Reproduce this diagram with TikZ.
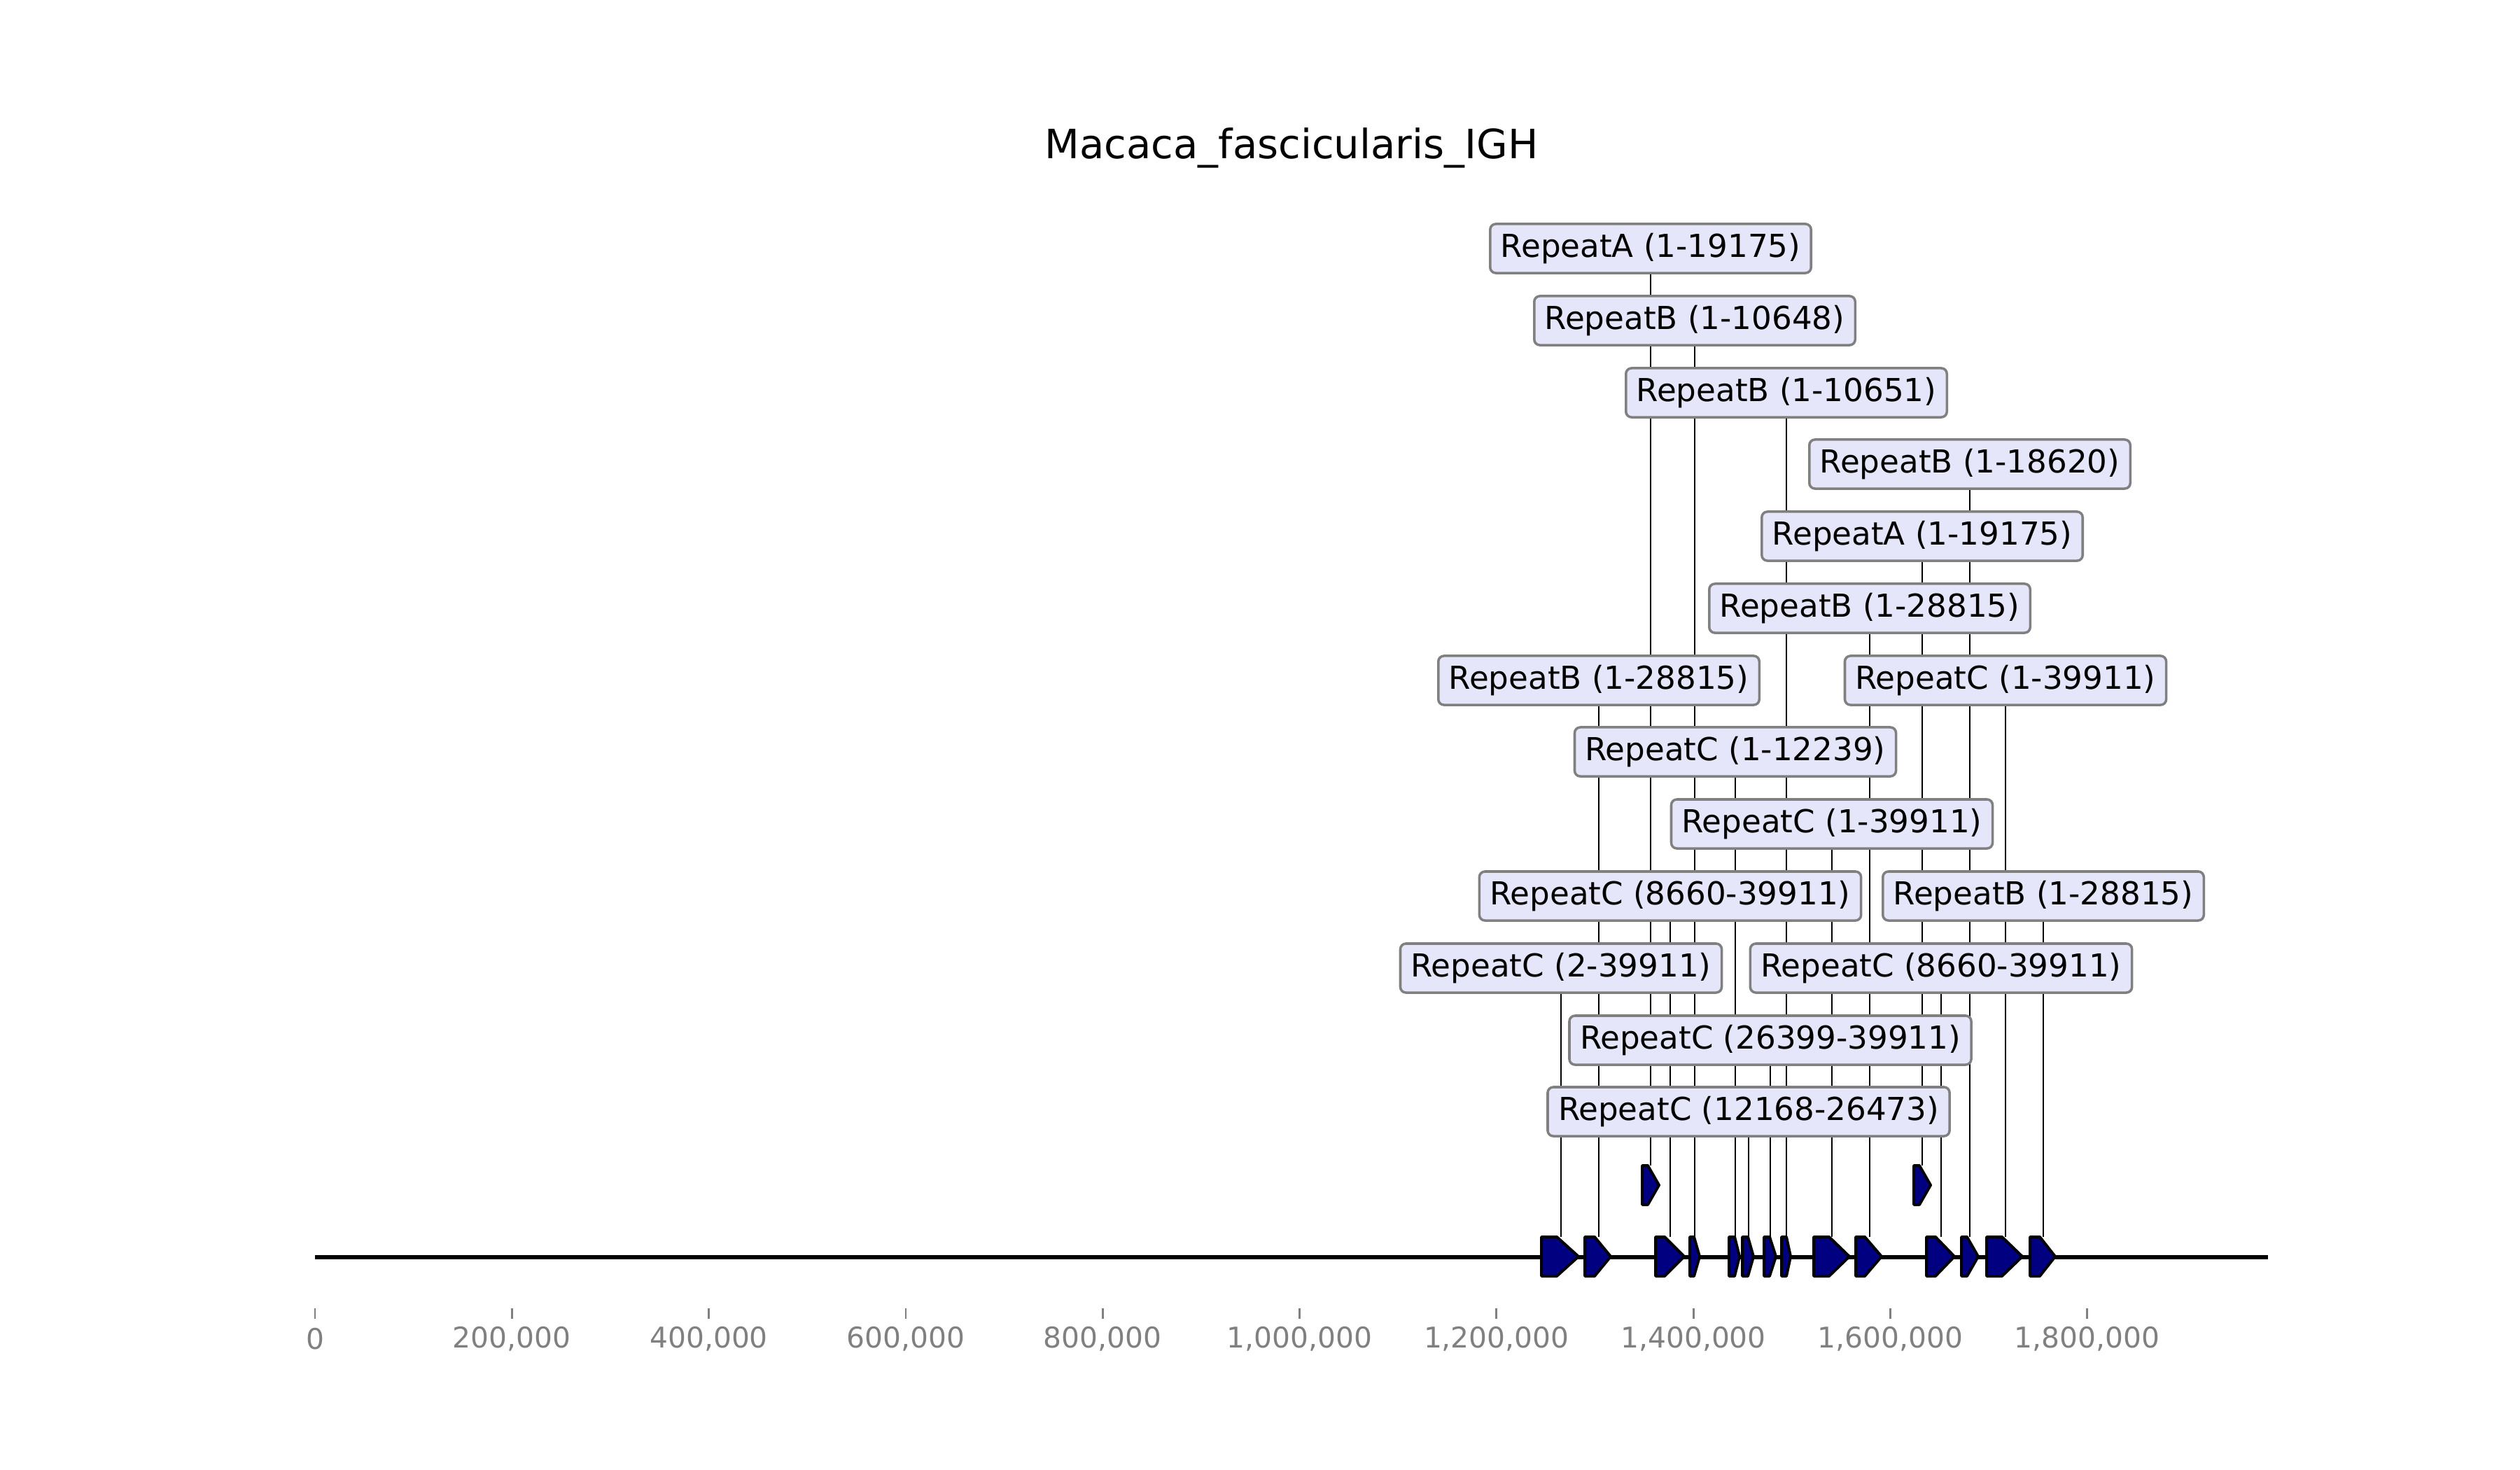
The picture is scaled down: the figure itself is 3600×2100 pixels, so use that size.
\documentclass[tikz,border=0pt]{standalone}
\usepackage{fontspec}
\setmainfont{DejaVu Sans}
\pgfdeclarelayer{bg}
\pgfsetlayers{bg,main}
\definecolor{boxfill}{RGB}{230,230,250}
\definecolor{boxedge}{RGB}{128,128,128}
\definecolor{featfill}{RGB}{0,0,128}
\definecolor{axgray}{RGB}{128,128,128}
\tikzset{
  lab/.style={draw=boxedge, fill=boxfill, line width=1pt, rounded corners=0.08cm,
    inner xsep=0.15cm, inner ysep=0pt, minimum height=0.70cm,
    font=\fontsize{12.85}{15}\selectfont, text=black},
  conn/.style={line width=0.45pt, black},
  feat/.style={draw=black, fill=featfill, line width=1.13pt, line join=round},
  tickmark/.style={axgray, line width=0.8pt},
  ticklab/.style={text=axgray, font=\fontsize{11.6}{14}\selectfont, inner sep=0pt},
  axisline/.style={black, line width=1.84pt},
}
\newcommand\featshape[4]{\draw[feat] (#1,#4-28) -- (#2,#4-28) -- (#3,#4) -- (#2,#4+28) -- (#1,#4+28) -- cycle;}
\begin{document}
\begin{tikzpicture}[x=0.01cm, y=-0.01cm]
\useasboundingbox (0,0) rectangle (3600,2100);

% title
\node[font=\fontsize{16.4}{19}\selectfont] (title) at (1845,211) {Macaca\_fascicularis\_IGH};

% axis
\coordinate (axL) at (450,1796);
\coordinate (axR) at (3240,1796);
\begin{pgfonlayer}{bg}
\draw[axisline] (axL) -- (axR);
\end{pgfonlayer}
\foreach \k/\t in {0/0,1/{200,000},2/{400,000},3/{600,000},4/{800,000},5/{1,000,000},6/{1,200,000},7/{1,400,000},8/{1,600,000},9/{1,800,000}}{
  \coordinate (tk\k) at ({450+281.3*\k},1869);
  \draw[tickmark] (tk\k) -- ++(0,15);
  \node[ticklab] (tl\k) at ({450+281.3*\k},1913) {\t};
}

% features (main track)
\featshape{2202}{2224}{2255}{1795}
\featshape{2264}{2278}{2301}{1795}
\featshape{2365}{2378}{2406}{1795}
\featshape{2414}{2420}{2428}{1795}
\featshape{2470}{2478}{2485}{1795}
\featshape{2489}{2497}{2505}{1795}
\featshape{2520}{2528}{2537}{1795}
\featshape{2545}{2552}{2558}{1795}
\featshape{2591}{2613}{2642}{1795}
\featshape{2651}{2664}{2688}{1795}
\featshape{2752}{2765}{2792}{1795}
\featshape{2802}{2810}{2826}{1795}
\featshape{2838}{2860}{2889}{1795}
\featshape{2900}{2914}{2936}{1795}
% features (upper track)
\featshape{2346}{2354}{2370}{1693}
\featshape{2734}{2742}{2758}{1693}

% feature anchor points for connectors
\coordinate (f1) at (2230,1767);
\coordinate (f2) at (2284,1767);
\coordinate (f3) at (2386,1767);
\coordinate (f4) at (2421,1767);
\coordinate (f5) at (2479,1767);
\coordinate (f6) at (2498,1767);
\coordinate (f7) at (2529,1767);
\coordinate (f8) at (2552,1767);
\coordinate (f9) at (2617,1767);
\coordinate (f10) at (2671,1767);
\coordinate (f11) at (2773,1767);
\coordinate (f12) at (2814,1767);
\coordinate (f13) at (2865,1767);
\coordinate (f14) at (2919,1767);
\coordinate (fa) at (2358,1665);
\coordinate (fb) at (2746,1665);

% labels
\node[lab] (L1) at (2358,355) {RepeatA (1-19175)};
\node[lab] (L2) at (2421,458) {RepeatB (1-10648)};
\node[lab] (L3) at (2552,561) {RepeatB (1-10651)};
\node[lab] (L4) at (2814,663) {RepeatB (1-18620)};
\node[lab] (L5) at (2746,766) {RepeatA (1-19175)};
\node[lab] (L6) at (2671,869) {RepeatB (1-28815)};
\node[lab] (L7) at (2284,972) {RepeatB (1-28815)};
\node[lab] (L8) at (2865,972) {RepeatC (1-39911)};
\node[lab] (L9) at (2479,1074) {RepeatC (1-12239)};
\node[lab] (L10) at (2617,1177) {RepeatC (1-39911)};
\node[lab] (L11) at (2386,1280) {RepeatC (8660-39911)};
\node[lab] (L12) at (2919,1280) {RepeatB (1-28815)};
\node[lab] (L13) at (2230,1383) {RepeatC (2-39911)};
\node[lab] (L14) at (2773,1383) {RepeatC (8660-39911)};
\node[lab] (L15) at (2529,1486) {RepeatC (26399-39911)};
\node[lab] (L16) at (2498,1588) {RepeatC (12168-26473)};

% connectors
\begin{pgfonlayer}{bg}
\draw[conn] (L1) -- (fa);
\draw[conn] (L2) -- (f4);
\draw[conn] (L3) -- (f8);
\draw[conn] (L4) -- (f12);
\draw[conn] (L5) -- (fb);
\draw[conn] (L6) -- (f10);
\draw[conn] (L7) -- (f2);
\draw[conn] (L8) -- (f13);
\draw[conn] (L9) -- (f5);
\draw[conn] (L10) -- (f9);
\draw[conn] (L11) -- (f3);
\draw[conn] (L12) -- (f14);
\draw[conn] (L13) -- (f1);
\draw[conn] (L14) -- (f11);
\draw[conn] (L15) -- (f7);
\draw[conn] (L16) -- (f6);
\end{pgfonlayer}
\end{tikzpicture}
\end{document}
